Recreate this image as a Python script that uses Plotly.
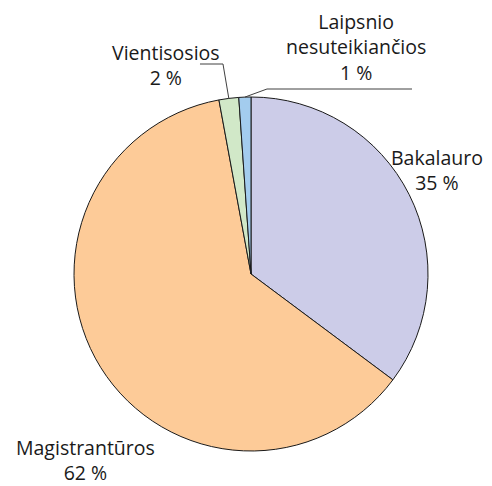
import numpy as np
import plotly.graph_objects as go

labels = ['Bakalauro', 'Magistrantūros', 'Vientisosios', 'Laipsnio<br>nesuteikiančios']
values = [35.2, 61.9, 1.8, 1.1]
colors = ['#cccce8', '#fdcb98', '#d1e8c8', '#a3ccee']

W, H = 492, 486
OFF = 8  # page body margin shifts the plot by 8px
cx, cy, r = 251 - OFF, 274 - OFF, 177  # pie centre / radius in pixels

fig = go.Figure(go.Pie(
    labels=labels,
    values=values,
    sort=False,
    direction='clockwise',
    rotation=0,
    marker=dict(colors=colors, line=dict(color='#1a1a1a', width=1)),
    textinfo='none',
    hoverinfo='label+percent',
    domain=dict(x=[(cx - r) / W, (cx + r) / W],
                y=[(H - cy - r) / H, (H - cy + r) / H]),
    showlegend=False,
))

pct = np.array(values) / sum(values) * 100
ends = np.cumsum(pct) * 3.6
mids = ends - pct * 1.8


def edge(i):
    a = np.radians(mids[i])
    return cx + r * np.sin(a), cy - r * np.cos(a)


def px(x, y):
    return (x - OFF) / W, 1 - (y - OFF) / H


# label positions (reference pixels, centre of text block)
label_pos = [(437, 170), (85, 460), (166, 65), (356, 47)]

annotations = []
for i, (lx, ly) in enumerate(label_pos):
    x, y = px(lx, ly)
    annotations.append(dict(
        x=x, y=y, xref='paper', yref='paper',
        xanchor='center', yanchor='middle',
        text=f'{labels[i]}<br>{round(pct[i]):.0f} %',
        showarrow=False, align='center',
        font=dict(size=19.5, color='#1a1a1a', family='Open Sans'),
    ))

# bent leader lines for the two small slices
shapes = []
leaders = {2: [(223, 64), (200, 64)], 3: [(267, 89), (412, 89)]}
for i, pts in leaders.items():
    ex, ey = edge(i)
    path_pts = [(ex + OFF, ey + OFF)] + pts
    path = 'M ' + ' L '.join(f'{px(x, y)[0]:.5f},{px(x, y)[1]:.5f}' for x, y in path_pts)
    shapes.append(dict(type='path', path=path, xref='paper', yref='paper',
                       line=dict(color='#404040', width=1)))

fig.update_layout(
    width=W, height=H,
    margin=dict(l=0, r=0, t=0, b=0),
    paper_bgcolor='white',
    annotations=annotations,
    shapes=shapes,
)

fig.write_html('out.html')
